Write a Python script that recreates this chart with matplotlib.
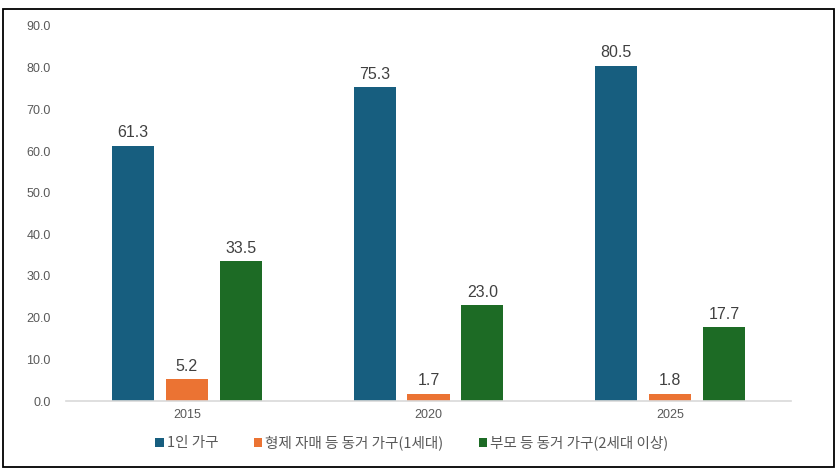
import matplotlib
matplotlib.use("Agg")
import matplotlib.pyplot as plt
import numpy as np
from matplotlib.patches import Rectangle

plt.rcParams["font.family"] = ["Liberation Sans", "Noto Sans CJK KR", "DejaVu Sans"]

years = ["2015", "2020", "2025"]
series_names = ["1인 가구", "형제 자매 등 동거 가구(1세대)", "부모 등 동거 가구(2세대 이상)"]
one_person = [61.3, 75.3, 80.5]
siblings = [5.2, 1.7, 1.8]
parents = [33.5, 23.0, 17.7]

colors = ["#175E7F", "#EB7333", "#1D6B25"]
text_gray = "#595959"

fig = plt.figure(figsize=(8.4, 4.76), dpi=100)
ax = fig.add_axes([66 / 840, 1 - 401 / 476, 725 / 840, 375 / 476])

x = np.arange(len(years))
width = 0.174
offsets = [-0.223, 0, 0.223]
for vals, off, col, name in zip([one_person, siblings, parents], offsets, colors, series_names):
    bars = ax.bar(x + off, vals, width, color=col, label=name, zorder=2)
    for rect, v in zip(bars, vals):
        ax.annotate(f"{v:.1f}", xy=(rect.get_x() + rect.get_width() / 2, v),
                    xytext=(0, 4), textcoords="offset points",
                    ha="center", va="bottom", fontsize=11.5, color="#404040")

ax.set_xlim(-0.5, 2.5)
ax.set_ylim(0, 90)
ax.set_yticks(np.arange(0, 91, 10))
ax.set_yticklabels([f"{t:.1f}" for t in np.arange(0, 91, 10)])
ax.set_xticks(x)
ax.set_xticklabels(years)
ax.tick_params(axis="both", length=0, labelsize=9, colors=text_gray)
ax.tick_params(axis="y", pad=11)
ax.tick_params(axis="x", pad=6)
for side in ["top", "right", "left"]:
    ax.spines[side].set_visible(False)
ax.spines["bottom"].set_color("#D9D9D9")
ax.spines["bottom"].set_linewidth(1.2)

leg = fig.legend(loc="center", bbox_to_anchor=(412 / 840, 1 - 443 / 476), ncol=3,
                 frameon=False, handlelength=0.6, handleheight=0.6,
                 handletextpad=0.2, columnspacing=2.4,
                 prop={"family": ["Noto Sans CJK KR", "DejaVu Sans"], "size": 10.5})
for t in leg.get_texts():
    t.set_color(text_gray)

# outer frame
fig.patches.append(Rectangle((3 / 840, 1 - 467 / 476), 831 / 840, 458 / 476,
                             transform=fig.transFigure, fill=False,
                             edgecolor="black", linewidth=1.3))

fig.savefig("out.png", dpi=100)
